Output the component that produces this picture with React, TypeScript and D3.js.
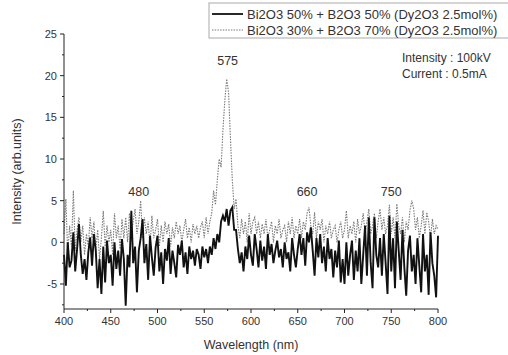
import React from 'react';
import * as d3 from 'd3';

// wavelength grid, 400..800 nm every 2 nm
const wavelengths = d3.range(400, 801, 2);

// Bi2O3 50% + B2O3 50%
const seriesA = [
  -1.5, -5.2, 0.0, -3.0, -2.2, 1.2, -3.5, -0.8, 2.2, -1.5,
  -3.8, -2.0, -4.5, -1.2, 0.6, -2.8, 1.0, -1.0, -5.5, -2.0,
  -6.2, -0.5, -4.8, 0.2, -2.5, -1.5, -5.2, 0.0, -3.2, -1.0,
  -4.0, 0.4, -2.0, -7.6, -1.5, -3.0, 3.8, -2.5, -0.5, -6.0,
  -1.0, 0.5, 2.8, -2.5, -0.2, -4.5, 0.8, -1.8, -4.0, -0.6,
  0.8, -3.5, -1.2, -5.0, -0.8, -2.2, 0.5, -3.8, -1.0, -2.5,
  -4.2, -0.3, -1.5, 0.2, -3.0, -1.2, -3.8, -0.5, -2.0, -1.0,
  -2.8, -0.8, -1.5, -3.2, -0.5, -1.8, -0.8, -2.5, -0.5, -1.5,
  0.5, -0.8, 1.0, 0.0, 2.5, 3.2, 2.5, 4.0, 2.0, 3.8,
  4.2, 1.5, 1.5, -0.8, -2.5, -1.2, -3.5, -0.5, -2.0, 0.8,
  -1.5, -2.8, 1.0, -0.8, -3.0, 0.2, -2.2, -0.5, -3.2, 1.0,
  -1.5, -0.2, -2.5, -1.0, 0.2, -1.8, -0.8, -3.0, 0.0, -2.0,
  -1.2, -3.5, 0.5, -1.5, -3.0, -0.8, 1.0, -1.5, 0.5, -2.8,
  1.2, 0.0, 1.8, -1.0, -4.0, 0.5, -1.8, 1.0, -2.5, -0.5,
  -3.5, 0.5, -2.0, -0.8, -4.2, -1.0, -3.0, 0.2, -4.8, -2.0,
  -5.0, 0.0, -4.0, -1.5, 0.2, -4.5, -1.0, -3.5, 0.5, -5.0,
  -1.5, 2.0, -4.0, 3.0, -2.5, -5.5, 3.0, -1.5, -3.0, 0.5,
  -4.0, 1.0, -2.5, -6.2, 3.2, -3.5, 0.5, -5.5, 2.5, -1.0,
  -4.5, 1.5, -3.0, -6.4, -1.0, 0.8, -3.5, -1.5, -5.0, 0.5,
  -2.8, -6.0, 1.0, -3.5, -1.5, -6.3, 1.2, -2.5, -4.0, -6.6,
  0.8,
];

// Bi2O3 30% + B2O3 70%
const seriesB = [
  1.0, 5.2, -1.5, 2.0, -0.5, 6.2, -1.0, 1.5, 3.0, 0.0,
  2.0, -1.5, 1.0, -0.5, 3.0, 0.5, 2.5, -1.0, 1.5, -2.0,
  0.5, 3.8, -0.5, 2.0, 0.0, 1.5, -1.5, 3.5, 0.5, 2.0,
  -0.8, 2.8, 0.5, 3.0, 0.0, 3.5, 1.0, 2.5, 4.0, 1.0,
  2.5, 5.0, 0.5, 3.0, 1.0, 2.5, -0.5, 3.2, 0.5, 1.5,
  2.8, -0.5, 2.0, 0.0, 2.5, 1.0, 2.2, -0.5, 1.8, 0.5,
  2.5, 1.0, 2.0, 0.0, 1.5, 2.8, 0.5, 1.8, 0.0, 2.2,
  1.0, 2.0, 0.5, 1.8, 2.5, 0.5, 3.0, 1.0, 2.5, 3.5,
  6.2, 4.5, 7.5, 10.0, 9.0, 13.5, 17.0, 19.6, 18.0, 12.5,
  7.5, 4.0, 5.2, 2.0, 0.5, 2.8, 1.0, 2.5, 0.0, 3.5,
  1.0, 2.5, 3.0, 1.0, 2.5, 0.5, 2.2, 1.0, 2.8, 0.5,
  1.5, 2.5, 0.0, 2.0, 1.0, 2.8, 0.5, 1.5, 2.0, 0.0,
  2.5, 1.0, 3.0, 0.5, 2.0, 1.0, 2.8, 0.5, 2.5, 1.5,
  3.5, 4.2, 2.0, 1.0, 3.6, 0.5, 2.5, 1.5, 2.8, 0.0,
  2.0, 1.0, 2.5, 0.5, 1.5, 2.0, 0.0, 1.5, 2.5, 0.5,
  1.5, 3.8, 0.5, 2.0, 1.0, 2.5, 0.0, 2.8, 1.0, 2.0,
  3.5, 1.0, 2.5, 4.0, 1.0, 2.0, 3.5, 0.5, 2.5, 4.0,
  1.5, 3.0, 1.0, 2.0, 4.5, 1.0, 3.0, 0.5, 4.6, 2.0,
  1.0, 3.0, 0.0, 2.5, 1.5, 3.8, 5.0, 4.0, 1.5, 3.0,
  0.5, 2.0, 3.8, 1.0, 3.6, 2.5, 0.5, 2.8, 1.0, 2.0,
  1.5,
];

const xTicks = [400, 450, 500, 550, 600, 650, 700, 750, 800];
const yTicks = [-5, 0, 5, 10, 15, 20, 25];

const legendLabels = [
  'Bi2O3 50% + B2O3 50% (Dy2O3 2.5mol%)',
  'Bi2O3 30% + B2O3 70% (Dy2O3 2.5mol%)',
];

const peakLabels = [
  { nm: 575, value: 21.3, text: '575' },
  { nm: 480, value: 5.6, text: '480' },
  { nm: 660, value: 5.6, text: '660' },
  { nm: 750, value: 5.6, text: '750' },
];

const font = '"Liberation Sans", Arial, sans-serif';

const App = () => {
  const width = 508;
  const height = 355;
  const left = 64, right = 438, top = 34, bottom = 309;

  const x = d3.scaleLinear().domain([400, 800]).range([left, right]);
  const y = d3.scaleLinear().domain([-8, 25]).range([bottom, top]);

  const line = d3
    .line<number>()
    .x((d, i) => x(wavelengths[i]))
    .y((d) => y(d));

  const xMinor = d3.range(425, 800, 50);
  const yMinor = d3.range(-7.5, 25, 5);

  return (
    <div style={{ position: 'absolute', left: 0, top: 0 }}>
      <svg width={width} height={height} style={{ display: 'block', background: '#fff' }} fontFamily={font}>
        {/* data */}
        <path d={line(seriesB) || ''} fill="none" stroke="#7a7a7a" strokeWidth={1.1} strokeDasharray="1.5,1.2" />
        <path d={line(seriesA) || ''} fill="none" stroke="#111" strokeWidth={1.9} strokeLinejoin="miter" />

        {/* axes */}
        <line x1={left} x2={left} y1={top} y2={bottom} stroke="#222" strokeWidth={1} />
        <line x1={left} x2={right} y1={bottom} y2={bottom} stroke="#222" strokeWidth={1} />
        {xTicks.map((t) => (
          <g key={'xt' + t}>
            <line x1={x(t)} x2={x(t)} y1={bottom} y2={bottom + 4} stroke="#222" />
            <text x={x(t)} y={bottom + 16} textAnchor="middle" fontSize={11} fill="#333">{t}</text>
          </g>
        ))}
        {xMinor.map((t) => (
          <line key={'xm' + t} x1={x(t)} x2={x(t)} y1={bottom} y2={bottom + 2} stroke="#222" />
        ))}
        {yTicks.map((t) => (
          <g key={'yt' + t}>
            <line x1={left - 4} x2={left} y1={y(t)} y2={y(t)} stroke="#222" />
            <text x={left - 7} y={y(t) + 4} textAnchor="end" fontSize={11} fill="#333">{t}</text>
          </g>
        ))}
        {yMinor.map((t) => (
          <line key={'ym' + t} x1={left - 2} x2={left} y1={y(t)} y2={y(t)} stroke="#222" />
        ))}

        <text x={(left + right) / 2} y={349} textAnchor="middle" fontSize={12.5} fill="#333">Wavelength (nm)</text>
        <text transform={`translate(21,${(top + bottom) / 2}) rotate(-90)`} textAnchor="middle" fontSize={12.5} fill="#333">
          Intensity (arb.units)
        </text>

        {/* peak labels */}
        {peakLabels.map((p) => (
          <text key={p.text} x={x(p.nm)} y={y(p.value)} textAnchor="middle" fontSize={12.5} fill="#333">{p.text}</text>
        ))}

        {/* legend */}
        <rect x={209} y={3} width={310} height={35} fill="none" stroke="#aaa" strokeWidth={1} />
        <line x1={212} x2={243} y1={14} y2={14} stroke="#111" strokeWidth={1.8} />
        <line x1={212} x2={243} y1={30} y2={30} stroke="#7a7a7a" strokeWidth={1} strokeDasharray="1.5,1.2" />
        <text x={247} y={18.5} fontSize={13} fill="#333">{legendLabels[0]}</text>
        <text x={247} y={34.5} fontSize={13} fill="#333">{legendLabels[1]}</text>

        <text x={402} y={62} fontSize={12} fill="#333">Intensity : 100kV</text>
        <text x={402} y={78} fontSize={12} fill="#333">Current : 0.5mA</text>
      </svg>
    </div>
  );
};

export default App;
